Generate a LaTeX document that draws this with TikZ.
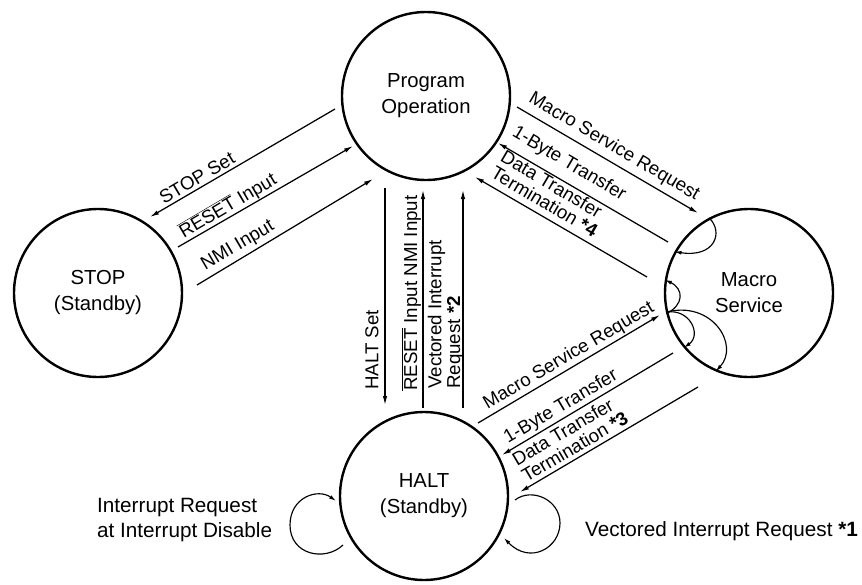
\documentclass[tikz,border=0pt]{standalone}
\usepackage{fontspec}
\setmainfont{Liberation Sans}
\usetikzlibrary{arrows.meta}
\newcommand{\ovl}[1]{$\overline{\hbox{#1}}$}
\begin{document}
\begin{tikzpicture}[x=1pt,y=-1pt,
  state/.style={circle, draw, line width=2.4pt, minimum size=168pt, inner sep=0pt, align=center, font=\fontsize{20.3}{26}\selectfont},
  conn/.style={line width=1.25pt, -{Latex[length=9pt,width=4.5pt]}},
  loopc/.style={line width=1.15pt, -{Latex[length=7pt,width=4pt]}},
  lab/.style={font=\fontsize{18.7}{18.7}\selectfont, inner sep=0pt, align=left},
  biglab/.style={font=\fontsize{20.7}{25}\selectfont, inner sep=0pt, align=left}]
\useasboundingbox (0,0) rectangle (862,584);

% states
\node[state] (prog)  at (426,96)  {Program\\Operation};
\node[state] (stop)  at (98,293)  {STOP\\(Standby)};
\node[state] (halt)  at (424,496) {HALT\\(Standby)};
\node[state] (macro) at (749,293) {Macro\\Service};

% STOP <-> Program
\coordinate (s1a) at (335,109); \coordinate (s1b) at (150,217);
\coordinate (s2a) at (178,247); \coordinate (s2b) at (353,146);
\coordinate (s3a) at (197,285); \coordinate (s3b) at (373,179);
\draw[conn] (s1a) -- (s1b);
\draw[conn] (s2a) -- (s2b);
\draw[conn] (s3a) -- (s3b);
\node[lab, rotate=30.5] (lstopset) at (197,178) {STOP Set};
\node[lab, rotate=30.5] (lreset1) at (228,206) {\ovl{RESET} Input};
\node[lab, rotate=30.5] (lnmi1) at (238,246) {NMI Input};

% Program <-> HALT
\coordinate (v1a) at (385,188); \coordinate (v1b) at (385,405);
\coordinate (v2a) at (423,408); \coordinate (v2b) at (423,190);
\coordinate (v3a) at (463,408); \coordinate (v3b) at (463,190);
\draw[conn] (v1a) -- (v1b);
\draw[conn] (v2a) -- (v2b);
\draw[conn] (v3a) -- (v3b);
\node[lab, rotate=90, anchor=west] (lhaltset) at (372,390) {HALT Set};
\node[lab, rotate=90, anchor=west] (lreset2) at (411.5,391) {\ovl{RESET} Input NMI Input};
\node[lab, rotate=90, anchor=west] (lvec2) at (446,389) {Vectored Interrupt\\Request \textbf{*2}};

% Program <-> Macro Service
\coordinate (m1a) at (517,107); \coordinate (m1b) at (698,213);
\coordinate (m2a) at (668,242); \coordinate (m2b) at (498,143);
\coordinate (m3a) at (647,277); \coordinate (m3b) at (475,177);
\draw[conn] (m1a) -- (m1b);
\draw[conn] (m2a) -- (m2b);
\draw[conn] (m3a) -- (m3b);
\node[lab, rotate=-30.5] (lmsr1) at (614,147) {Macro Service Request};
\node[lab, rotate=-30.5] (lbyte1) at (569,164) {1-Byte Transfer};
\node[lab, rotate=-30.5] (ldt4) at (549.5,193.5) {Data Transfer\\Termination \textbf{*4}};

% Macro Service <-> HALT
\coordinate (h1a) at (478,423); \coordinate (h1b) at (660,315);
\coordinate (h2a) at (673,353); \coordinate (h2b) at (502,455);
\coordinate (h3a) at (698,387); \coordinate (h3b) at (520,492);
\draw[conn] (h1a) -- (h1b);
\draw[conn] (h2a) -- (h2b);
\draw[conn] (h3a) -- (h3b);
\node[lab, rotate=30.5] (lmsr2) at (569,356) {Macro Service Request};
\node[lab, rotate=30.5] (lbyte2) at (561,407) {1-Byte Transfer};
\node[lab, rotate=30.5] (ldt3) at (570,438.5) {Data Transfer\\Termination \textbf{*3}};

% loops inside Macro Service
\draw[loopc] (macro.118) .. controls (724,232) and (715,258) .. (macro.151);
\draw[loopc] (macro.194) .. controls (684,305) and (684,289) .. (macro.171);
\draw[loopc] (macro.193) .. controls (690,308) and (702,335) .. (macro.220);
\draw[loopc] (macro.193) .. controls (712,300) and (740,345) .. (macro.247);

% HALT self loops
\coordinate (hr1) at (515,500); \coordinate (hr2) at (504,538);
\coordinate (hl1) at (343,545); \coordinate (hl2) at (336,501);
\draw[loopc] (hr1) .. controls (532,487) and (560,500) .. (560,523)
  .. controls (560,548) and (530,565) .. (hr2);
\draw[loopc] (hl1) .. controls (325,562) and (290,555) .. (290,525)
  .. controls (290,497) and (318,488) .. (hl2);
\node[biglab, anchor=west] (lintdis) at (97,520) {Interrupt Request\\at Interrupt Disable};
\node[biglab, anchor=west] (lvec1) at (585,531) {Vectored Interrupt Request \textbf{*1}};
\end{tikzpicture}
\end{document}
